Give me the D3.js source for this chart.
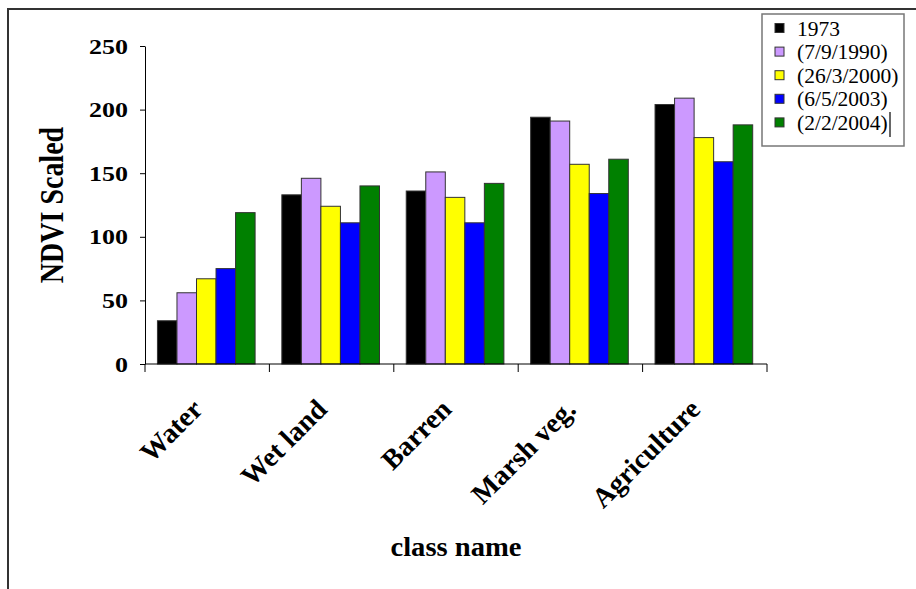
<!DOCTYPE html>
<html>
<head>
<meta charset="utf-8">
<script src="https://cdn.jsdelivr.net/npm/d3@7"></script>
<style>
  body { margin: 0; background: #fff; }
  svg { display: block; }
</style>
</head>
<body>
<div id="chart"></div>
<script>
const categories = ['Water', 'Wet land', 'Barren', 'Marsh veg.', 'Agriculture'];
const seriesNames = ['1973', '(7/9/1990)', '(26/3/2000)', '(6/5/2003)', '(2/2/2004)'];
const seriesColors = ['#000000', '#cc99ff', '#ffff00', '#0000ff', '#008000'];
const values1973 = [34, 133, 136, 194, 204];
const values1990 = [56, 146, 151, 191, 209];
const values2000 = [67, 124, 131, 157, 178];
const values2003 = [75, 111, 111, 134, 159];
const values2004 = [119, 140, 142, 161, 188];
const yTicks = [0, 50, 100, 150, 200, 250];

const allValues = [values1973, values1990, values2000, values2003, values2004];

const width = 916;
const height = 589;
const margin = { top: 46, right: 149, bottom: 225, left: 145 };
const stretch = 1.18;
const serif = '"Liberation Serif", "Times New Roman", serif';

const svg = d3.select('#chart')
    .append('svg')
    .attr('width', width)
    .attr('height', height);

// outer frame
svg.append('path')
    .attr('d', `M8,${height} L8,9 L${width},9`)
    .attr('fill', 'none')
    .attr('stroke', '#333')
    .attr('stroke-width', 2);

const x0 = d3.scaleBand()
    .domain(categories)
    .range([margin.left, width - margin.right]);

const x1 = d3.scaleBand()
    .domain(seriesNames)
    .range([x0.bandwidth() * 0.1, x0.bandwidth() * 0.885]);

const yScale = d3.scaleLinear()
    .domain([0, 250])
    .range([height - margin.bottom, margin.top]);

const color = d3.scaleOrdinal().domain(seriesNames).range(seriesColors);

// bars
const groups = svg.append('g')
    .selectAll('g')
    .data(categories)
    .enter().append('g')
    .attr('transform', d => `translate(${x0(d)},0)`);

groups.selectAll('rect')
    .data((cat, ci) => seriesNames.map((s, si) => ({ key: s, value: allValues[si][ci] })))
    .enter().append('rect')
    .attr('x', d => x1(d.key))
    .attr('width', x1.bandwidth())
    .attr('y', d => yScale(d.value))
    .attr('height', d => yScale(0) - yScale(d.value))
    .attr('fill', d => color(d.key))
    .attr('stroke', '#333')
    .attr('stroke-width', 1);

// y axis
const yAxis = svg.append('g')
    .attr('transform', `translate(${margin.left},0)`)
    .call(d3.axisLeft(yScale).tickValues(yTicks).tickSize(5).tickPadding(12).tickSizeOuter(0))
    .call(g => g.select('.domain').attr('stroke', '#000'))
    .call(g => g.selectAll('.tick line').attr('stroke', '#000'));

yAxis.selectAll('.tick text')
    .attr('font-family', serif)
    .attr('font-size', 22)
    .attr('font-weight', 'bold')
    .attr('fill', '#000')
    .each(function() {
        const t = d3.select(this);
        const tx = +t.attr('x');
        t.attr('x', null)
         .attr('transform', `translate(${tx},0) scale(${stretch},1)`);
    });

// x axis: ticks at category boundaries
const xAxisY = yScale(0);
svg.append('line')
    .attr('x1', margin.left)
    .attr('x2', width - margin.right)
    .attr('y1', xAxisY)
    .attr('y2', xAxisY)
    .attr('stroke', '#000');

const boundaries = categories.map(c => x0(c)).concat([width - margin.right]);
svg.append('g')
    .selectAll('line')
    .data(boundaries)
    .enter().append('line')
    .attr('x1', d => d)
    .attr('x2', d => d)
    .attr('y1', xAxisY)
    .attr('y2', xAxisY + 8)
    .attr('stroke', '#000');

// rotated category labels
svg.append('g')
    .selectAll('text')
    .data(categories)
    .enter().append('text')
    .attr('transform', d => `translate(${x0(d) + x0.bandwidth() / 2 - 3},${xAxisY + 47}) rotate(-45)`)
    .attr('text-anchor', 'end')
    .attr('font-family', serif)
    .attr('font-size', 28)
    .attr('font-weight', 'bold')
    .text(d => d);

// axis titles
svg.append('text')
    .attr('transform', `translate(63,205) scale(${stretch},1) rotate(-90)`)
    .attr('text-anchor', 'middle')
    .attr('font-family', serif)
    .attr('font-size', 28)
    .attr('font-weight', 'bold')
    .text('NDVI Scaled');

svg.append('text')
    .attr('transform', `translate(456,556) scale(1.06,1)`)
    .attr('text-anchor', 'middle')
    .attr('font-family', serif)
    .attr('font-size', 27)
    .attr('font-weight', 'bold')
    .text('class name');

// legend
const legendBox = svg.append('g').attr('transform', 'translate(762,14)');
legendBox.append('rect')
    .attr('width', 142)
    .attr('height', 132)
    .attr('fill', '#fff')
    .attr('stroke', '#777')
    .attr('stroke-width', 1.5);

const legendItems = legendBox.selectAll('g.item')
    .data(seriesNames)
    .enter().append('g')
    .attr('class', 'item')
    .attr('transform', (d, i) => `translate(0,${14 + i * 23.6})`);

legendItems.append('rect')
    .attr('x', 13)
    .attr('y', -4.5)
    .attr('width', 9)
    .attr('height', 9)
    .attr('fill', d => color(d))
    .attr('stroke', '#333');

legendItems.append('text')
    .attr('x', 35)
    .attr('y', 0)
    .attr('dy', '0.35em')
    .attr('font-family', serif)
    .attr('font-size', 21.5)
    .text(d => d);

// text cursor left in the last legend entry
legendBox.append('line')
    .attr('x1', 128)
    .attr('x2', 128)
    .attr('y1', 98)
    .attr('y2', 123)
    .attr('stroke', '#000')
    .attr('stroke-width', 1.2);
</script>
</body>
</html>
